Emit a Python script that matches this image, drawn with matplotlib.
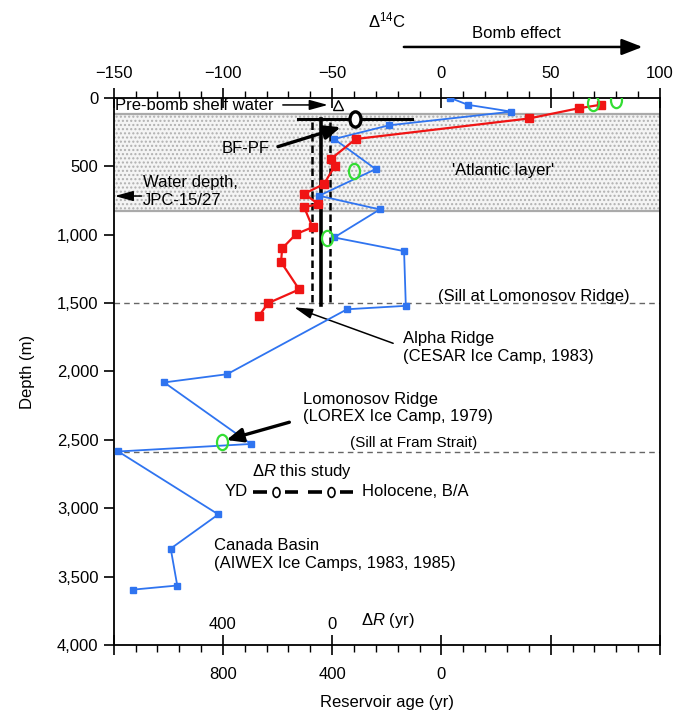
import matplotlib.pyplot as plt
from matplotlib.path import Path
from matplotlib.ticker import MultipleLocator, FuncFormatter

plt.rcParams['font.family'] = ['Liberation Sans', 'DejaVu Sans']
plt.rcParams['font.size'] = 12
plt.rcParams['mathtext.fontset'] = 'custom'
plt.rcParams['mathtext.rm'] = 'Liberation Sans'
plt.rcParams['mathtext.it'] = 'Liberation Sans:italic'
plt.rcParams['hatch.linewidth'] = 1.0
plt.rcParams['hatch.color'] = '#b0b0b0'

# Alpha Ridge / Canada Basin profile (blue)
blue_d14c = [4.1, 12.1, 32.0, -24.0, -49.1, -30.1, -56.0, -28.2, -49.1, -17.1,
             -16.3, -43.2, -98.1, -126.9, -87.2, -147.9, -102.1, -123.9, -120.9, -141.0]
blue_depth = [0, 50, 100, 200, 300, 520, 715, 815, 1020, 1120,
              1520, 1545, 2020, 2080, 2530, 2585, 3045, 3295, 3565, 3595]

# second profile (red)
red_d14c = [72.8, 62.9, 40.0, -39.2, -50.5, -48.9, -53.8, -62.8, -56.4, -62.8,
            -59.0, -66.5, -72.9, -73.4, -65.1, -79.3, -83.6]
red_depth = [50, 75, 150, 300, 445, 500, 630, 700, 775, 800,
             945, 995, 1100, 1200, 1400, 1500, 1595]

# LOREX values (green open circles)
green_d14c = [69.3, 80.0, -40.1, -52.3, -100.6]
green_depth = [35, 15, 535, 1025, 2515]

# Delta R this study
dr_solid = -55.0
dr_dashed = [-59.3, -50.8]
bfpf_x, bfpf_lo, bfpf_hi, bfpf_depth = -39.7, -65.6, -13.5, 155
shelf_x, shelf_depth = -47.3, 52

atlantic_top, atlantic_bottom = 120, 830
sill_lomonosov, sill_fram = 1500, 2588

d14c_ticks = [-150, -100, -50, 0, 50, 100]
age_labels = ['', '800', '400', '0', '', '']

# tall ellipse marker
circ = Path.unit_circle()
oval = Path(circ.vertices * [0.72, 1.0], circ.codes)

fig = plt.figure(figsize=(6.75, 7.12), dpi=100)
ax = fig.add_axes([0.1684, 0.0941, 0.8093, 0.7683])
ax.set_xlim(-150, 100)
ax.set_ylim(4000, 0)

# Atlantic layer band
ax.axhspan(atlantic_top, atlantic_bottom, facecolor='#f4f4f4', edgecolor='#b0b0b0',
           hatch='....', lw=0, zorder=0)
ax.axhline(atlantic_top, color='#aaaaaa', lw=1.6, zorder=1)
ax.axhline(atlantic_bottom, color='#aaaaaa', lw=1.6, zorder=1)

# sills
ax.axhline(sill_lomonosov, color='#666666', lw=1.0, ls=(0, (4, 3)), zorder=1)
ax.axhline(sill_fram, color='#666666', lw=1.0, ls=(0, (4, 3)), zorder=1)

# Delta R lines
ax.plot([dr_solid, dr_solid], [bfpf_depth, 1515], color='k', lw=2.6, zorder=3)
for xd in dr_dashed:
    ax.plot([xd, xd], [175, 1500], color='k', lw=1.8, ls=(0, (3, 1.6)), zorder=3)

ax.plot(blue_d14c, blue_depth, color='#2f74f0', lw=1.3, marker='s', ms=5, zorder=4)
ax.plot(red_d14c, red_depth, color='#f01414', lw=1.6, marker='s', ms=5.5, zorder=4)
ax.plot(green_d14c, green_depth, ls='none', marker=oval, ms=11, mfc='none',
        mec='#33dd33', mew=1.6, zorder=5)

# BF-PF bar
ax.plot([bfpf_lo, bfpf_hi], [bfpf_depth, bfpf_depth], color='k', lw=2.2, zorder=5)
ax.plot([bfpf_x], [bfpf_depth], marker=oval, ms=11, mfc='white', mec='k', mew=2.4, zorder=6)
ax.plot([shelf_x], [shelf_depth], marker='^', ms=7, mfc='none', mec='k', mew=1.0, zorder=6)

# axes styling
ax.xaxis.tick_top()
ax.set_xticks(d14c_ticks)
ax.xaxis.set_minor_locator(MultipleLocator(10))
ax.tick_params(axis='x', which='major', direction='inout', length=14, width=1.2, pad=5)
ax.tick_params(axis='x', which='minor', direction='out', length=5, width=1.0)
ax.set_yticks(range(0, 4001, 500))
ax.yaxis.set_major_formatter(FuncFormatter(lambda v, p: f'{int(v):,}'))
ax.tick_params(axis='y', direction='out', length=7, width=1.2, pad=4)
ax.spines['bottom'].set_visible(False)
for s in ['top', 'left', 'right']:
    ax.spines[s].set_linewidth(1.3)
ax.set_ylabel('Depth (m)', labelpad=16)
ax.text(0.5, 1.1426, r'$\Delta^{14}$C', transform=ax.transAxes, ha='center', va='center')

sec = ax.secondary_xaxis('bottom')
sec.set_xticks(d14c_ticks, labels=age_labels)
sec.xaxis.set_minor_locator(MultipleLocator(10))
sec.tick_params(which='major', direction='inout', length=14, width=1.2, pad=9)
sec.tick_params(which='minor', direction='out', length=5, width=1.0)
sec.spines['bottom'].set_linewidth(1.3)
sec.set_xlabel('Reservoir age (yr)', labelpad=9)

# Delta R scale inside the plot
ax.text(-100.1, 3851, '400', ha='center', va='center')
ax.text(-50.2, 3851, '0', ha='center', va='center')
ax.text(-36.9, 3821, r'Δ$\mathit{R}$ (yr)', ha='left', va='center')

# bomb effect
ax.annotate('', xy=(92, -373), xytext=(-17.2, -373), annotation_clip=False,
            arrowprops=dict(arrowstyle='-|>,head_length=0.9,head_width=0.35', lw=1.8,
                            color='k', mutation_scale=14, shrinkA=0, shrinkB=0))
ax.text(34.4, -475, 'Bomb effect', ha='center', va='center', clip_on=False)

thin = dict(arrowstyle='-|>,head_length=0.8,head_width=0.22', lw=1.1, color='k',
            mutation_scale=14, shrinkA=0, shrinkB=0)
thick = dict(arrowstyle='-|>,head_length=0.7,head_width=0.3', lw=2.4, color='k',
             mutation_scale=14, shrinkA=0, shrinkB=0)

ax.text(-149.4, 58, 'Pre-bomb shelf water', ha='left', va='center', zorder=7)
ax.annotate('', xy=(-52.0, 51), xytext=(-72.6, 51), arrowprops=thin, zorder=7)

ax.text(-100.6, 366, 'BF-PF', ha='left', va='center')
ax.annotate('', xy=(-46.1, 214), xytext=(-74.8, 356), arrowprops=thick, zorder=7)

ax.text(-136.6, 685, 'Water depth,\nJPC-15/27', ha='left', va='center', linespacing=1.2)
ax.annotate('', xy=(-149.5, 717), xytext=(-137.2, 717), arrowprops=thin)

ax.text(28.0, 534, "'Atlantic layer'", ha='center', va='center')
ax.text(42.2, 1453, '(Sill at Lomonosov Ridge)', ha='center', va='center')
ax.text(-12.6, 2525, '(Sill at Fram Strait)', ha='center', va='center', fontsize=11)

ax.text(-17.4, 1825, 'Alpha Ridge\n(CESAR Ice Camp, 1983)', ha='left', va='center',
        linespacing=1.2)
ax.annotate('', xy=(-67.4, 1531), xytext=(-22.1, 1794), arrowprops=thin)

ax.text(-63.2, 2267, 'Lomonosov Ridge\n(LOREX Ice Camp, 1979)', ha='left', va='center',
        linespacing=1.2)
ax.annotate('', xy=(-98.4, 2501), xytext=(-69.6, 2371), arrowprops=thick, zorder=7)

ax.text(-104.0, 3338, 'Canada Basin\n(AIWEX Ice Camps, 1983, 1985)', ha='left',
        va='center', linespacing=1.2)

# legend for Delta R lines
ax.text(-86.8, 2733, r'Δ$\mathit{R}$ this study', ha='left', va='center')
ax.text(-99.1, 2881, 'YD', ha='left', va='center')
for x0, x1 in [(-86.4, -79.8), (-71.7, -65.8), (-61.2, -54.8), (-46.5, -40.6)]:
    ax.plot([x0, x1], [2881, 2881], color='k', lw=2.6, solid_capstyle='butt')
ax.plot([-75.8, -50.6], [2881, 2881], ls='none', marker=oval, ms=7, mfc='white',
        mec='k', mew=1.2)
ax.text(-36.5, 2881, 'Holocene, B/A', ha='left', va='center')

fig.savefig('out.png', dpi=100)
